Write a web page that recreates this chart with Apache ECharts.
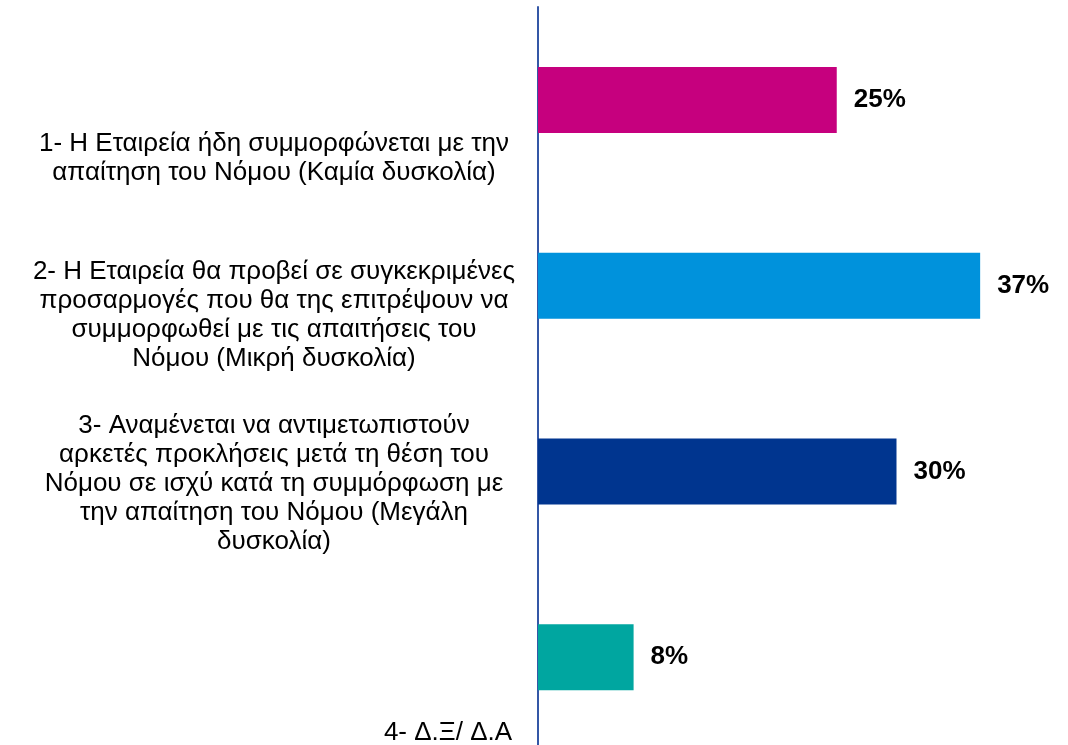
<!DOCTYPE html>
<html>
<head>
<meta charset="utf-8">
<script src="https://cdn.jsdelivr.net/npm/echarts@6/dist/echarts.min.js"></script>
<style>
  html, body { margin: 0; padding: 0; background: #ffffff; }
  #chart { width: 1068px; height: 745px; }
</style>
</head>
<body>
<div id="chart"></div>
<script>
// Survey answers (category labels, wrapped as printed)
const categories = [
  '1- Η Εταιρεία ήδη συμμορφώνεται με την\nαπαίτηση του Νόμου (Καμία δυσκολία)',
  '2- Η Εταιρεία θα προβεί σε συγκεκριμένες\nπροσαρμογές που θα της επιτρέψουν να\nσυμμορφωθεί με τις απαιτήσεις του\nΝόμου (Μικρή δυσκολία)',
  '3- Αναμένεται να αντιμετωπιστούν\nαρκετές προκλήσεις μετά τη θέση του\nΝόμου σε ισχύ κατά τη συμμόρφωση με\nτην απαίτηση του Νόμου (Μεγάλη\nδυσκολία)',
  '4- Δ.Ξ/ Δ.Α'
];
// Share of respondents, percent
const values = [25, 37, 30, 8];
const barColors = ['#C6007E', '#0092DC', '#00358F', '#00A6A0'];

// Per-label nudges of the text block (down / right, px)
const labelShiftY = [58, 30, 12, 76];
const labelShiftX = [0, 0, 0, 174];

const FONT = '"Liberation Sans", Arial, sans-serif';

// Rich styles: a spacer line above each label pushes the text down,
// left padding pushes it right.
const rich = {};
categories.forEach((c, i) => {
  rich['s' + i] = { fontSize: 1, lineHeight: labelShiftY[i] * 2 };
  rich['t' + i] = {
    fontFamily: FONT,
    fontSize: 26,
    lineHeight: 29,
    color: '#000000',
    padding: [0, 0, 0, labelShiftX[i] * 2]
  };
});

const chart = echarts.init(document.getElementById('chart'), null, { renderer: 'canvas' });

chart.setOption({
  backgroundColor: '#ffffff',
  animation: false,
  grid: {
    left: 538, right: 52, top: 7, bottom: -5,
    containLabel: false,
    outerBoundsMode: 'none'
  },
  xAxis: {
    type: 'value',
    min: 0,
    max: 40,
    show: false
  },
  yAxis: {
    type: 'category',
    inverse: true,
    data: categories,
    axisLine: { show: true, lineStyle: { color: '#3457A6', width: 2 } },
    axisTick: { show: false },
    splitLine: { show: false },
    axisLabel: {
      margin: 264,
      align: 'center',
      verticalAlign: 'middle',
      interval: 0,
      formatter: (value, index) => '{s' + index + '| }\n{t' + index + '|' + value + '}',
      rich: rich
    }
  },
  series: [{
    type: 'bar',
    barWidth: 66,
    data: values.map((v, i) => ({ value: v, itemStyle: { color: barColors[i] } })),
    label: {
      show: true,
      position: 'right',
      distance: 17,
      formatter: p => p.value + '%',
      fontFamily: FONT,
      fontWeight: 'bold',
      fontSize: 26,
      color: '#000000'
    }
  }]
});
</script>
</body>
</html>
